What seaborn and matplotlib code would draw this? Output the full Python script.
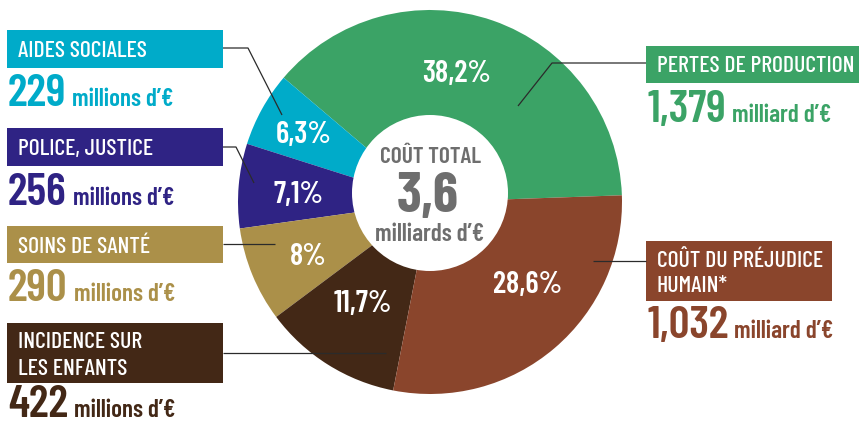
import matplotlib
matplotlib.use("Agg")
import matplotlib.pyplot as plt
from matplotlib.patches import Rectangle, Circle
import seaborn as sns

# Cost breakdown, in the drawing order of the donut (counter-clockwise)
categories = ["PERTES DE PRODUCTION", "AIDES SOCIALES", "POLICE, JUSTICE",
              "SOINS DE SANTÉ", "INCIDENCE SUR\nLES ENFANTS", "COÛT DU PRÉJUDICE\nHUMAIN*"]
shares = [38.2, 6.3, 7.1, 8.0, 11.7, 28.6]
amounts = ["1,379", "229", "256", "290", "422", "1,032"]
units = ["milliard d’€", "millions d’€", "millions d’€", "millions d’€",
         "millions d’€", "milliard d’€"]
total_title = "COÛT TOTAL"
total_value = "3,6"
total_unit = "milliards d’€"

palette = sns.color_palette(["#3BA366", "#00ABC9", "#2F2384", "#AB9049",
                             "#432816", "#8A452C"])

sns.set_theme(style="white")
FONT = ["Barlow Condensed", "DejaVu Sans"]
plt.rcParams["font.family"] = FONT

W, H = 859, 424
fig = plt.figure(figsize=(W / 100, H / 100), dpi=100)
ax = fig.add_axes([0, 0, 1, 1])


def Y(y):
    """Top-down pixel row to axes coordinate."""
    return H - y


# Donut
cx, cy, R = 430, 202, 192
ax.pie(shares, colors=palette, startangle=2, counterclock=True, radius=R,
       center=(cx, Y(cy)), wedgeprops=dict(linewidth=0))
ax.add_patch(Circle((430, Y(193)), 78, facecolor="white", edgecolor="none", zorder=3))
ax.set_xlim(0, W)
ax.set_ylim(0, H)
ax.set_aspect("auto")
ax.axis("off")

# Percentages on the wedges
pct_pos = [(457, 82), (304, 143), (298, 203), (308, 265), (363, 312), (528, 293)]
for v, (px, py) in zip(shares, pct_pos):
    lab = f"{v:g}".replace(".", ",") + "%"
    ax.text(px, Y(py), lab, ha="center", va="baseline", color="white",
            fontsize=22, fontweight=600, zorder=5)

# Centre of the donut
grey = "#6E6E6E"
ax.text(430, Y(163), total_title, ha="center", va="baseline", color=grey,
        fontsize=17, fontweight=600, zorder=5)
ax.text(428, Y(212), total_value, ha="center", va="baseline", color=grey,
        fontsize=41, fontweight=700, zorder=5)
ax.text(430, Y(241), total_unit, ha="center", va="baseline", color=grey,
        fontsize=18, fontweight=600, zorder=5)

# Label boxes: (x0, x1, y0, y1, text x, baselines of the title lines, amount baseline)
boxes = [
    (646, 859, 46, 83, 657, [72], 122),
    (7, 223, 30, 68, 18, [57], 106),
    (7, 223, 128, 166, 18, [155], 205),
    (7, 223, 226, 263, 18, [253], 301),
    (7, 223, 323, 383, 18, [348, 375], 417),
    (646, 832, 241, 301, 657, [267, 292], 338),
]
fig.canvas.draw()
renderer = fig.canvas.get_renderer()
for i, (x0, x1, y0, y1, tx, bls, nb) in enumerate(boxes):
    col = palette[i]
    ax.add_patch(Rectangle((x0, Y(y1)), x1 - x0, y1 - y0, facecolor=col,
                           edgecolor="none", zorder=2))
    for line, bl in zip(categories[i].split("\n"), bls):
        ax.text(tx, Y(bl), line, ha="left", va="baseline", color="white",
                fontsize=17, fontweight=500, zorder=5)
    nx = x0 + 1
    num = ax.text(nx, Y(nb), amounts[i], ha="left", va="baseline", color=col,
                  fontsize=33, fontweight=600, zorder=5)
    ext = num.get_window_extent(renderer)
    ax.text(ext.x1 + 6, Y(nb), units[i], ha="left", va="baseline", color=col,
            fontsize=18, fontweight=600, zorder=5)

# Leader lines
lc = "#2B2B2B"
leaders = [
    [(646, 63), (552, 63), (518, 106)],
    [(223, 48), (248, 48), (282, 115)],
    [(223, 147), (236, 147), (254, 183)],
    [(223, 244), (275, 244)],
    [(223, 353), (386, 353)],
    [(646, 261), (593, 261)],
]
for pts in leaders:
    xs = [p[0] for p in pts]
    ys = [Y(p[1]) for p in pts]
    ax.plot(xs, ys, color=lc, lw=0.9, zorder=4, solid_capstyle="butt")

fig.savefig("out.png", dpi=100)
